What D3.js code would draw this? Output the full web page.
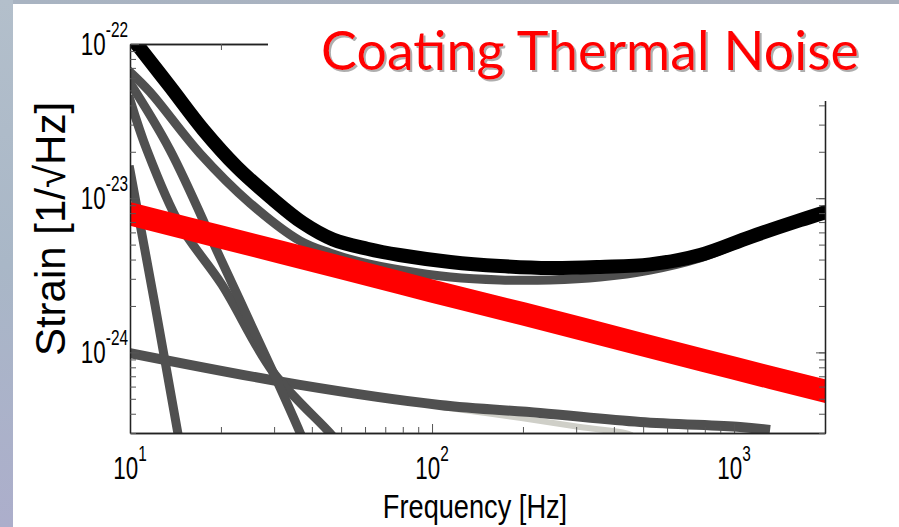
<!DOCTYPE html>
<html>
<head>
<meta charset="utf-8">
<script src="https://cdn.jsdelivr.net/npm/d3@7"></script>
<style>
body{margin:0;background:#fff;overflow:hidden}
</style>
</head>
<body>
<svg></svg>
<script>
// values: frequency in Hz, strain in 1/sqrt(Hz)
var totalFreq   = [10.15, 10.79, 13.6, 17.5, 22.6, 29.1, 37.4, 47, 61, 78, 115, 168, 246, 360, 527, 771, 1130, 1655, 2000]
var totalStrain = [1.09e-22, 9.4e-23, 5.26e-23, 2.77e-23, 1.59e-23, 1.02e-23, 6.9e-24, 5.4e-24, 4.7e-24, 4.28e-24, 3.86e-24, 3.63e-24, 3.52e-24, 3.58e-24, 3.72e-24, 4.28e-24, 5.6e-24, 7.2e-24, 8.1e-24]

var coatingFreq   = [10, 20, 50, 100, 200, 500, 1000, 2000]
var coatingStrain = [7.9e-24, 5.6e-24, 3.55e-24, 2.5e-24, 1.78e-24, 1.12e-24, 7.9e-25, 5.6e-25]

var quantumFreq   = [10, 11.65, 17.05, 24.95, 36.6, 45.9, 57.7, 78.3, 115, 168, 246, 360, 527, 771, 1130, 1655, 2000]
var quantumStrain = [6.58e-23, 4.88e-23, 1.95e-23, 9.3e-24, 5.28e-24, 4.41e-24, 3.86e-24, 3.42e-24, 3.08e-24, 2.95e-24, 2.95e-24, 3.08e-24, 3.42e-24, 4.1e-24, 5.44e-24, 7.01e-24, 7.9e-24]

var suspFreq   = [10, 11.38, 14.64, 20.17, 29.75, 45.9, 49.6]
var suspStrain = [4.34e-23, 2.05e-23, 6.7e-24, 2.74e-24, 7.46e-25, 3.0e-25, 2.5e-25]

var gravFreq   = [10, 13.57, 20.17, 29.75, 36.6, 37.97]
var gravStrain = [5.59e-23, 2.05e-23, 3.86e-24, 7.46e-25, 3.0e-25, 2.5e-25]

var seismicFreq   = [10, 12.1, 14.4, 14.8]
var seismicStrain = [1.52e-23, 2.03e-24, 3.0e-25, 2.3e-25]

var substrateFreq   = [10, 36.5, 106, 228, 489, 1047, 1316]
var substrateStrain = [9.9e-25, 6.15e-25, 4.56e-25, 4.05e-25, 3.54e-25, 3.28e-25, 3.14e-25]

var gasFreq   = [106, 195, 309, 435, 460]
var gasStrain = [4.43e-25, 3.76e-25, 3.28e-25, 3.0e-25, 2.9e-25]

var xMajor = [10, 100, 1000]
var xMajorExp = ["1", "2", "3"]
var yMajor = [1e-22, 1e-23, 1e-24]
var yMajorExp = ["-22", "-23", "-24"]

var zip = function(xs, ys) { return xs.map(function(v, i) { return [v, ys[i]] }) }

var screen = {width:899, height:527}
var plot = {left:130, right:825, top:44, bottom:433}

var svg = d3.select("svg")
    .attr("width", screen.width)
    .attr("height", screen.height)

// slide background: white panel with a thin gradient frame on the left and top
var defs = svg.append("defs")
var gl = defs.append("linearGradient").attr("id","leftStrip").attr("x1",0).attr("y1",0).attr("x2",0).attr("y2",1)
gl.append("stop").attr("offset","0%").attr("stop-color","#b3bfcb")
gl.append("stop").attr("offset","50%").attr("stop-color","#a9b7c7")
gl.append("stop").attr("offset","100%").attr("stop-color","#acaecb")
var gt = defs.append("linearGradient").attr("id","topStrip").attr("x1",0).attr("y1",0).attr("x2",1).attr("y2",0)
gt.append("stop").attr("offset","0%").attr("stop-color","#a9b4c2")
gt.append("stop").attr("offset","100%").attr("stop-color","#aab0bd")

var shadow = defs.append("filter").attr("id","titleShadow")
    .attr("x","-5%").attr("y","-20%").attr("width","110%").attr("height","140%")
shadow.append("feDropShadow")
    .attr("dx",2).attr("dy",2).attr("stdDeviation",0.6)
    .attr("flood-color","#9a9a9a").attr("flood-opacity",0.8)

svg.append("rect").attr("width", screen.width).attr("height", screen.height).attr("fill", "#fff")
svg.append("rect").attr("width", 13).attr("height", screen.height).attr("fill", "url(#leftStrip)")
svg.append("rect").attr("x", 13).attr("width", screen.width - 13).attr("height", 4).attr("fill", "url(#topStrip)")

defs.append("clipPath").attr("id","plotClip")
    .append("rect")
    .attr("x", plot.left).attr("y", plot.top)
    .attr("width", plot.right - plot.left).attr("height", plot.bottom - plot.top)

var xScale = d3.scaleLog().domain([10, 2000]).range([plot.left, plot.right])
var yScale = d3.scaleLog().domain([3e-25, 1e-22]).range([plot.bottom, plot.top])

var line = d3.line()
    .x(function(d) { return xScale(d[0]) })
    .y(function(d) { return yScale(d[1]) })
    .curve(d3.curveCatmullRom.alpha(0.5))

var curves = [
    {data: zip(gasFreq, gasStrain), color: "#cfcfc8", width: 6, cap: "butt"},
    {data: zip(substrateFreq, substrateStrain), color: "#505050", width: 10, cap: "butt"},
    {data: zip(seismicFreq, seismicStrain), color: "#505050", width: 9, cap: "square"},
    {data: zip(suspFreq, suspStrain), color: "#505050", width: 9, cap: "square"},
    {data: zip(gravFreq, gravStrain), color: "#505050", width: 9, cap: "square"},
    {data: zip(quantumFreq, quantumStrain), color: "#505050", width: 9, cap: "square"},
    {data: zip(coatingFreq, coatingStrain), color: "#ff0000", width: 23, cap: "square"},
    {data: zip(totalFreq, totalStrain), color: "#000000", width: 14, cap: "square"}
]

var curveLayer = svg.append("g").attr("clip-path", "url(#plotClip)")
curveLayer.selectAll("path")
    .data(curves)
    .enter()
    .append("path")
    .attr("d", function(c) { return line(c.data) })
    .attr("fill", "none")
    .attr("stroke", function(c) { return c.color })
    .attr("stroke-width", function(c) { return c.width })
    .attr("stroke-linecap", function(c) { return c.cap })
    .attr("stroke-linejoin", "round")

// axes box, ticks pointing inwards
var xMinor = xScale.ticks().filter(function(t) { return xMajor.indexOf(t) < 0 })
var yMinor = yScale.ticks().filter(function(t) { return yMajor.map(String).indexOf(String(t)) < 0 })

var drawAxis = function(axisFn, scale, tr, values, size) {
    svg.append("g")
        .attr("class", "axis")
        .attr("transform", tr)
        .call(axisFn(scale).tickValues(values).tickSize(size).tickSizeOuter(0).tickFormat(""))
}
drawAxis(d3.axisBottom, xScale, "translate(0," + plot.bottom + ")", xMajor, -9)
drawAxis(d3.axisBottom, xScale, "translate(0," + plot.bottom + ")", xMinor, -6)
drawAxis(d3.axisTop, xScale, "translate(0," + plot.top + ")", xMajor, -9)
drawAxis(d3.axisTop, xScale, "translate(0," + plot.top + ")", xMinor, -6)
drawAxis(d3.axisLeft, yScale, "translate(" + plot.left + ",0)", yMajor, -9)
drawAxis(d3.axisLeft, yScale, "translate(" + plot.left + ",0)", yMinor, -6)
drawAxis(d3.axisRight, yScale, "translate(" + plot.right + ",0)", yMajor, -9)
drawAxis(d3.axisRight, yScale, "translate(" + plot.right + ",0)", yMinor, -6)

svg.selectAll(".axis path").attr("stroke", "#222").attr("stroke-width", 1.3)
svg.selectAll(".axis line").attr("stroke", "#555").attr("stroke-width", 1)

// title panel covers the top right corner of the box
svg.append("rect")
    .attr("x", 268).attr("y", 4)
    .attr("width", screen.width - 268).attr("height", 97)
    .attr("fill", "#fff")

// tick labels: 10 with superscript exponent, condensed font
var narrow = "'Liberation Sans', Arial, sans-serif"
var squeeze = 0.7

var xLabels = svg.append("g")
xMajor.forEach(function(v, i) {
    var t = xLabels.append("text")
        .attr("transform", "translate(" + xScale(v) + ",479) scale(" + squeeze + ",1)")
        .attr("text-anchor", "middle")
        .attr("font-family", narrow)
        .attr("font-size", 32)
        .attr("fill", "#000")
    t.append("tspan").text("10")
    t.append("tspan").attr("dy", -18).attr("font-size", 22).text(xMajorExp[i])
})

var yLabels = svg.append("g")
yMajor.forEach(function(v, i) {
    var t = yLabels.append("text")
        .attr("transform", "translate(128," + (yScale(v) + 11) + ") scale(" + squeeze + ",1)")
        .attr("text-anchor", "end")
        .attr("font-family", narrow)
        .attr("font-size", 32)
        .attr("fill", "#000")
    t.append("tspan").text("10")
    t.append("tspan").attr("dy", -18).attr("font-size", 22).text(yMajorExp[i])
})

svg.append("text")
    .attr("transform", "translate(475,518) scale(0.8,1)")
    .attr("text-anchor", "middle")
    .attr("font-family", narrow)
    .attr("font-size", 34)
    .attr("fill", "#000")
    .text("Frequency [Hz]")

svg.append("text")
    .attr("transform", "translate(65,229) rotate(-90)")
    .attr("text-anchor", "middle")
    .attr("font-family", "'Liberation Sans', Arial, sans-serif")
    .attr("font-size", 42)
    .attr("fill", "#000")
    .text("Strain [1/\u221AHz]")

// slide title with soft shadow
var titleText = svg.append("text")
    .attr("x", 321).attr("y", 70)
    .attr("font-family", "Lato, 'Open Sans', sans-serif")
    .attr("font-size", 54)
    .attr("fill", "#ff0000")
    .attr("filter", "url(#titleShadow)")
    .text("Coating Thermal Noise")
var w = titleText.node().getComputedTextLength()
titleText.attr("font-size", 54 * 538 / w)
</script>
</body>
</html>
